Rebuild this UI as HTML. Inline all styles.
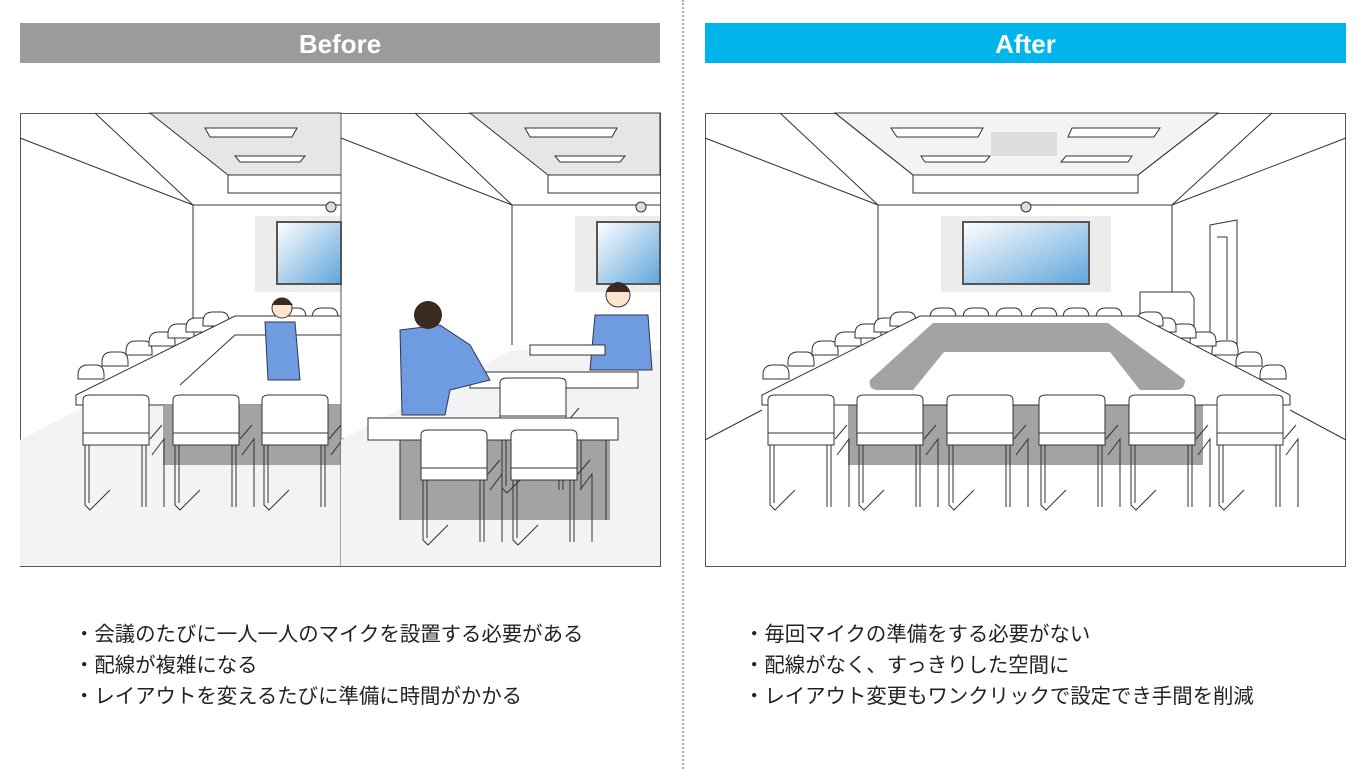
<!DOCTYPE html>
<html><head><meta charset="utf-8"><style>
body{margin:0;width:1366px;height:769px;background:#fff;overflow:hidden;position:relative;font-family:"Liberation Sans","Noto Sans CJK JP",sans-serif}
.h{position:absolute;top:23px;height:40px;color:#fff;font-weight:bold;font-size:26px;line-height:42px;text-align:center}
.t{position:absolute;font-size:20.4px;color:#222;line-height:31px}
</style></head><body>
<div class="h" style="left:20px;width:640px;background:#9b9b9b">Before</div>
<div class="h" style="left:705px;width:641px;background:#00b4ec">After</div>
<div style="position:absolute;left:682px;top:0;height:769px;border-left:2px dotted #aaa"></div>
<svg width="1366" height="769" style="position:absolute;left:0;top:0" fill="none" stroke="#333" stroke-width="1">
<defs>
<g id="ch">
<path d="M3 38 L3 5 Q3 0 10 0 L62 0 Q69 0 69 5 L69 38 Z" fill="#fff"/>
<path d="M3 38 L69 38 L69 50 L3 50 Z" fill="#fff"/>
<path d="M5 50 L5 110 L10 115 L30 95 M66 50 L66 112 M62 50 L62 112 M9 50 L9 108 M70 44 L82 30 M72 60 L84 44 L84 112" fill="none"/>
</g>
<g id="sc"><path d="M0 10 Q0 0 10 0 L18 0 Q26 0 26 10 L26 14 L0 14Z" fill="#fff"/></g>
<linearGradient id="g" x1="0" y1="0" x2="1" y2="1"><stop offset="0" stop-color="#fff"/><stop offset="1" stop-color="#5ea5dc"/></linearGradient>
</defs>

<!-- AFTER -->
<rect x="705.5" y="113.5" width="640" height="453" fill="#fff" stroke="#555"/>
<path d="M835 113 L913 175 L1138 175 L1218 113Z" fill="#f3f3f3"/>
<path d="M705 138 L878 205 M1346 138 L1172 205 M780 113 L878 205 L1172 205 L1272 113 M835 113 L913 175 L1138 175 L1218 113 M913 175 L913 193 L1138 193 L1138 175 M878 205 L878 340 M1172 205 L1172 340 M705 440 L762 410 M1346 440 L1290 410"/>
<path d="M891 128 L983 128 L978 137 L897 137Z M921 156 L990 156 L985 162 L925 162Z M1072 128 L1160 128 L1154 137 L1068 137Z M1066 156 L1132 156 L1128 162 L1061 162Z" fill="#fff"/>
<rect x="991" y="132" width="66" height="24" fill="#ddd" stroke="none"/>
<rect x="941" y="216" width="170" height="76" fill="#ececec" stroke="none"/>
<rect x="963" y="222" width="126" height="62" fill="url(#g)" stroke="#555" stroke-width="2"/>
<circle cx="1026" cy="207" r="5" fill="#ddd"/>
<path d="M1210 225 L1237 220 L1237 345 L1210 345Z M1217 237 L1227 237 L1227 340" />
<path d="M1140 292 L1190 292 L1194 298 L1194 330 L1140 330Z" fill="#fff"/>
<g fill="#fff">
<use href="#sc" x="930" y="308"/><use href="#sc" x="963" y="308"/><use href="#sc" x="996" y="308"/><use href="#sc" x="1031" y="308"/><use href="#sc" x="1063" y="308"/><use href="#sc" x="1096" y="308"/>
<use href="#sc" x="763" y="365"/><use href="#sc" x="788" y="352"/><use href="#sc" x="812" y="341"/><use href="#sc" x="835" y="332"/><use href="#sc" x="855" y="324"/><use href="#sc" x="874" y="318"/><use href="#sc" x="890" y="312"/>
<use href="#sc" x="1260" y="365"/><use href="#sc" x="1236" y="352"/><use href="#sc" x="1212" y="341"/><use href="#sc" x="1190" y="332"/><use href="#sc" x="1170" y="324"/><use href="#sc" x="1150" y="318"/><use href="#sc" x="1137" y="312"/>
</g>
<rect x="848" y="405" width="355" height="60" fill="#a3a3a3" stroke="none"/>
<path d="M762 395 L920 316 L1138 316 L1290 395 L1290 405 L762 405Z" fill="#fff"/>
<path d="M870 380 L933 323 L1108 323 L1185 380 Q1185 390 1175 390 L878 390 Q868 390 870 380Z" fill="#a3a3a3" stroke="none"/>
<path d="M913 390 L944 352 L1110 352 L1140 390Z" fill="#fff" stroke="none"/>
<g><use href="#ch" x="765" y="395"/><use href="#ch" x="854" y="395"/><use href="#ch" x="944" y="395"/><use href="#ch" x="1036" y="395"/><use href="#ch" x="1126" y="395"/><use href="#ch" x="1214" y="395"/></g>

<!-- BEFORE A -->
<rect x="20.5" y="113.5" width="640" height="453" fill="#fff" stroke="#555"/>
<path d="M20 440 L193 350 L341 350 L341 566 L20 566Z" fill="#f3f3f6" stroke="none"/>
<path d="M150 113 L228 175 L341 175 L341 113Z" fill="#e6e6e6"/>
<path d="M20 138 L193 205 M95 113 L193 205 L341 205 M228 175 L228 193 L341 193 M193 205 L193 345"/>
<path d="M205 128 L297 128 L292 137 L210 137Z M235 156 L305 156 L300 162 L240 162Z" fill="#fff"/>
<rect x="255" y="216" width="86" height="76" fill="#ececec" stroke="none"/>
<rect x="277" y="222" width="64" height="62" fill="url(#g)" stroke="#555" stroke-width="2"/>
<circle cx="331" cy="207" r="5" fill="#ddd"/>
<g><use href="#sc" x="78" y="365"/><use href="#sc" x="102" y="352"/><use href="#sc" x="126" y="341"/><use href="#sc" x="149" y="332"/><use href="#sc" x="168" y="324"/><use href="#sc" x="186" y="318"/><use href="#sc" x="203" y="312"/><use href="#sc" x="280" y="308"/><use href="#sc" x="312" y="308"/></g>
<path d="M76 395 L235 316 L341 316 L341 405 L76 405Z" fill="#fff"/>
<path d="M180 385 L235 335 L341 335" />
<rect x="163" y="405" width="178" height="60" fill="#a3a3a3" stroke="none"/>
<path d="M265 322 L295 322 L300 380 L268 380Z" fill="#6f9be0" stroke="#335"/>
<circle cx="282" cy="308" r="10" fill="#fde5d0"/><path d="M272 305 Q282 290 293 305" fill="#3a2a20" stroke="none"/>
<g><use href="#ch" x="80" y="395"/><use href="#ch" x="170" y="395"/><use href="#ch" x="259" y="395"/></g>
<line x1="341" y1="113" x2="341" y2="567" stroke="#555"/>

<!-- BEFORE B -->
<path d="M341 440 L512 350 L660 350 L660 566 L341 566Z" fill="#f3f3f6" stroke="none"/>
<path d="M470 113 L548 175 L660 175 L660 113Z" fill="#e6e6e6"/>
<path d="M341 138 L512 205 M415 113 L512 205 L660 205 M548 175 L548 193 L660 193 M512 205 L512 345"/>
<path d="M525 128 L617 128 L612 137 L530 137Z M555 156 L625 156 L620 162 L560 162Z" fill="#fff"/>
<rect x="575" y="216" width="85" height="76" fill="#ececec" stroke="none"/>
<rect x="597" y="222" width="63" height="62" fill="url(#g)" stroke="#555" stroke-width="2"/>
<circle cx="641" cy="207" r="5" fill="#ddd"/>
<path d="M595 315 L648 315 L652 370 L590 370Z" fill="#6f9be0" stroke="#335"/>
<circle cx="618" cy="295" r="12" fill="#fde5d0"/><path d="M606 292 Q618 272 630 292" fill="#3a2a20" stroke="none"/>
<path d="M530 345 L605 345 L605 355 L530 355Z M470 372 L638 372 L638 388 L470 388Z" fill="#fff"/>
<rect x="400" y="440" width="210" height="80" fill="#a3a3a3" stroke="none"/>
<path d="M400 330 L440 325 L470 345 L490 380 L450 390 L445 415 L402 415Z" fill="#6f9be0" stroke="#335"/>
<circle cx="428" cy="315" r="14" fill="#3a2a20" stroke="none"/>
<use href="#ch" x="497" y="378"/>
<path d="M368 418 L618 418 L618 440 L368 440Z M400 440 L400 520 M606 440 L606 520" fill="#fff"/>
<g><use href="#ch" x="418" y="430"/><use href="#ch" x="508" y="430"/></g>
</svg>
<div class="t" style="left:74px;top:620px">・会議のたびに一人一人のマイクを設置する必要がある<br>・配線が複雑になる<br>・レイアウトを変えるたびに準備に時間がかかる</div>
<div class="t" style="left:744px;top:620px">・毎回マイクの準備をする必要がない<br>・配線がなく、すっきりした空間に<br>・レイアウト変更もワンクリックで設定でき手間を削減</div>
</body></html>
